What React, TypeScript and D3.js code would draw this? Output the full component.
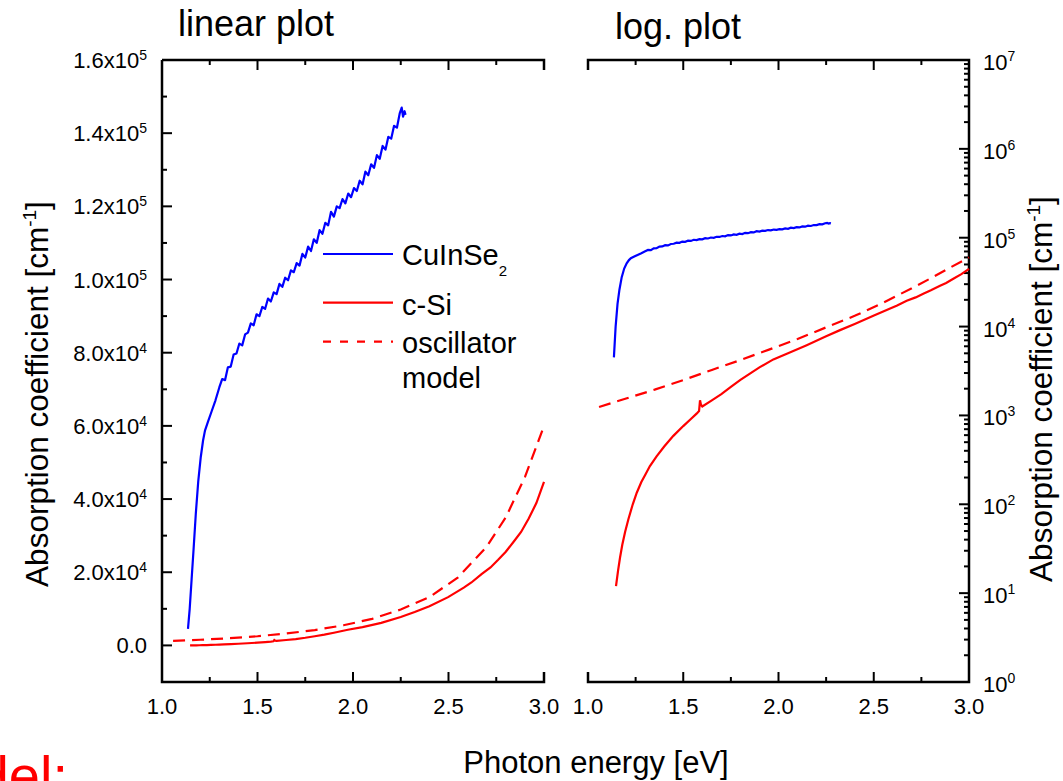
import React from "react";
import * as d3 from "d3";

// ---------- data (photon energy [eV], absorption coefficient [cm^-1]) ----------
const cuinse2E = [1.136, 1.145, 1.155, 1.165, 1.177, 1.19, 1.203, 1.215, 1.225, 1.24, 1.26, 1.28, 1.3, 1.315, 1.33, 1.345, 1.36, 1.375, 1.39, 1.405, 1.42, 1.435, 1.45, 1.465, 1.48, 1.495, 1.51, 1.525, 1.54, 1.555, 1.57, 1.585, 1.6, 1.615, 1.63, 1.645, 1.66, 1.675, 1.69, 1.705, 1.72, 1.735, 1.75, 1.765, 1.78, 1.795, 1.81, 1.825, 1.84, 1.855, 1.87, 1.885, 1.9, 1.915, 1.93, 1.945, 1.96, 1.975, 1.99, 2.005, 2.02, 2.035, 2.05, 2.065, 2.08, 2.095, 2.11, 2.125, 2.14, 2.155, 2.17, 2.185, 2.2, 2.215, 2.23, 2.245, 2.255, 2.262, 2.27, 2.275];
const cuinse2A = [4500, 10000, 18000, 26000, 36000, 45000, 51500, 56000, 58700, 61000, 64000, 67000, 70500, 72800, 72500, 76000, 76200, 79500, 79800, 82500, 82000, 85000, 85500, 88000, 87500, 90500, 90000, 92500, 92000, 94800, 94000, 96500, 96000, 98800, 98000, 100500, 99800, 102500, 102000, 104500, 103800, 107000, 106000, 109000, 107800, 111000, 110000, 113500, 112500, 115500, 114800, 118500, 117200, 120000, 119500, 122000, 120800, 123500, 122500, 125000, 124200, 127000, 126000, 129500, 128500, 131500, 130500, 134000, 133000, 136500, 135500, 139000, 138500, 142000, 141500, 145500, 147000, 144500, 146000, 145000];

const cSiE = [1.147, 1.158, 1.168, 1.18, 1.195, 1.212, 1.235, 1.256, 1.28, 1.3, 1.325, 1.36, 1.4, 1.448, 1.5, 1.54, 1.57, 1.583, 1.588, 1.593, 1.6, 1.65, 1.7, 1.75, 1.8, 1.85, 1.9, 1.973, 2.05, 2.148, 2.25, 2.323, 2.4, 2.498, 2.58, 2.62, 2.673, 2.72, 2.76, 2.8, 2.848, 2.88, 2.92, 2.96, 3.0];
const cSiA = [12, 18, 25, 35, 49, 68, 100, 135, 178, 214, 269, 347, 447, 589, 759, 912, 1047, 1122, 1480, 1320, 1260, 1480, 1740, 2090, 2510, 2950, 3470, 4270, 5010, 6170, 7760, 9120, 10700, 13200, 15800, 17200, 19500, 21300, 23400, 25600, 28800, 31000, 34700, 38900, 44700];

const oscE = [1.058, 1.2, 1.35, 1.5, 1.65, 1.8, 1.95, 2.1, 2.25, 2.4, 2.55, 2.7, 2.8, 2.9, 3.0];
const oscA = [1245, 1550, 1950, 2500, 3250, 4200, 5500, 7250, 9800, 13200, 18600, 27000, 35000, 46000, 60000];

const xTicksMajor = [1.0, 1.5, 2.0, 2.5, 3.0];
const xTicksMinor = [1.25, 1.75, 2.25, 2.75];
const yLinMajor = [0, 2e4, 4e4, 6e4, 8e4, 1e5, 1.2e5, 1.4e5, 1.6e5];
const yLinMinor = [-1e4, 1e4, 3e4, 5e4, 7e4, 9e4, 1.1e5, 1.3e5, 1.5e5];
const yLogMajor = [1, 10, 100, 1e3, 1e4, 1e5, 1e6, 1e7];

const seriesNames = ["CuInSe", "c-Si", "oscillator", "model"];

const FONT = "'Liberation Sans', Arial, Helvetica, sans-serif";
const BLUE = "#0000ff";
const RED = "#ff0000";

type P = [number, number];
const zip = (a: number[], b: number[]): P[] => a.map((v, i) => [v, b[i]]);

export default function App() {
  const xL = d3.scaleLinear().domain([1, 3]).range([162, 544]);
  const yL = d3.scaleLinear().domain([-1e4, 1.6e5]).range([682, 60]);
  const xR = d3.scaleLinear().domain([1, 3]).range([588, 969]);
  const yR = d3.scaleLog().domain([1, 1e7]).range([682, 60]);

  const blue = zip(cuinse2E, cuinse2A);
  const si = zip(cSiE, cSiA);
  const osc = zip(oscE, oscA);

  const lineL = d3.line<P>().x((d) => xL(d[0])).y((d) => yL(d[1]));
  const lineR = d3.line<P>().x((d) => xR(d[0])).y((d) => yR(d[1]));

  const minorLog: number[] = [];
  for (let e = 0; e < 7; e++) for (let m = 2; m <= 9; m++) minorLog.push(m * Math.pow(10, e));

  const axisStroke = { stroke: "#000", strokeWidth: 2.5, fill: "none" } as const;
  const tickStroke = { stroke: "#000", strokeWidth: 2 } as const;

  const xAxisTicks = (x: d3.ScaleLinear<number, number>, key: string) => (
    <g key={key}>
      {xTicksMajor.map((t) => (
        <g key={"M" + t}>
          <line x1={x(t)} x2={x(t)} y1={682} y2={672} {...tickStroke} />
          <line x1={x(t)} x2={x(t)} y1={60} y2={70} {...tickStroke} />
          <text x={x(t)} y={714} textAnchor="middle" fontSize={22}>
            {t.toFixed(1)}
          </text>
        </g>
      ))}
      {xTicksMinor.map((t) => (
        <g key={"m" + t}>
          <line x1={x(t)} x2={x(t)} y1={682} y2={677} {...tickStroke} />
          <line x1={x(t)} x2={x(t)} y1={60} y2={65} {...tickStroke} />
        </g>
      ))}
    </g>
  );

  const linLabel = (v: number) => {
    if (v === 0) return <>0.0</>;
    const e = Math.floor(Math.log10(v) + 1e-9);
    const m = (v / Math.pow(10, e)).toFixed(1);
    return (
      <>
        {m}x10
        <tspan dy={-8} fontSize={14}>
          {e}
        </tspan>
      </>
    );
  };

  return (
    <svg
      width={1063}
      height={781}
      style={{ position: "absolute", left: 0, top: 0, background: "#fff" }}
      fontFamily={FONT}
    >
      <rect x={0} y={0} width={1063} height={781} fill="#fff" />

      {/* titles */}
      <text x={178} y={36} fontSize={36}>linear plot</text>
      <text x={615} y={39} fontSize={36}>log. plot</text>

      {/* left panel axes */}
      <path d={`M162,60 V682 H544 V672`} {...axisStroke} />
      <path d={`M162,60 H544 V70`} {...axisStroke} />
      {xAxisTicks(xL, "xl")}
      {yLinMajor.map((v) => (
        <g key={"yl" + v}>
          <line x1={162} x2={172} y1={yL(v)} y2={yL(v)} {...tickStroke} />
          <text x={147} y={yL(v) + 8} textAnchor="end" fontSize={22}>
            {linLabel(v)}
          </text>
        </g>
      ))}
      {yLinMinor.map((v) => (
        <line key={"ylm" + v} x1={162} x2={167} y1={yL(v)} y2={yL(v)} {...tickStroke} />
      ))}

      {/* right panel axes */}
      <path d={`M588,70 V60 H969 V682 H588 V672`} {...axisStroke} />
      {xAxisTicks(xR, "xr")}
      {yLogMajor.map((v) => (
        <g key={"yr" + v}>
          <line x1={969} x2={959} y1={yR(v)} y2={yR(v)} {...tickStroke} />
          <text x={983} y={yR(v) + 10} fontSize={22}>
            10
            <tspan dy={-9} fontSize={14}>
              {Math.round(Math.log10(v))}
            </tspan>
          </text>
        </g>
      ))}
      {minorLog.map((v) => (
        <line key={"yrm" + v} x1={969} x2={964} y1={yR(v)} y2={yR(v)} {...tickStroke} />
      ))}

      {/* axis titles */}
      <text transform="translate(48,394) rotate(-90)" textAnchor="middle" fontSize={31.5}>
        Absorption coefficient [cm
        <tspan dy={-12} fontSize={19}>-1</tspan>
        <tspan dy={12}>]</tspan>
      </text>
      <text transform="translate(1052,389) rotate(-90)" textAnchor="middle" fontSize={31.5}>
        Absorption coefficient [cm
        <tspan dy={-12} fontSize={19}>-1</tspan>
        <tspan dy={12}>]</tspan>
      </text>
      <text x={596} y={773} textAnchor="middle" fontSize={31}>Photon energy [eV]</text>

      {/* data: linear panel */}
      <path d={lineL(osc) ?? ""} stroke={RED} strokeWidth={2.2} fill="none" strokeDasharray="12,7" />
      <path d={lineL(si) ?? ""} stroke={RED} strokeWidth={2.2} fill="none" />
      <path d={lineL(blue) ?? ""} stroke={BLUE} strokeWidth={2.2} fill="none" strokeLinejoin="round" />

      {/* data: log panel */}
      <path d={lineR(osc) ?? ""} stroke={RED} strokeWidth={2.2} fill="none" strokeDasharray="12,7" />
      <path d={lineR(si) ?? ""} stroke={RED} strokeWidth={2.2} fill="none" />
      <path d={lineR(blue) ?? ""} stroke={BLUE} strokeWidth={2.2} fill="none" />

      {/* legend */}
      <line x1={323} x2={393} y1={254} y2={254} stroke={BLUE} strokeWidth={2.2} />
      <text x={402} y={265} fontSize={29}>
        {seriesNames[0]}
        <tspan dy={11} fontSize={15}>2</tspan>
      </text>
      <line x1={323} x2={393} y1={302.7} y2={302.7} stroke={RED} strokeWidth={2.2} />
      <text x={402} y={314.5} fontSize={29}>{seriesNames[1]}</text>
      <line x1={323} x2={393} y1={341.7} y2={341.7} stroke={RED} strokeWidth={2.2} strokeDasharray="8,9" />
      <text x={402} y={353.3} fontSize={29}>{seriesNames[2]}</text>
      <text x={402} y={388.3} fontSize={29}>{seriesNames[3]}</text>

      {/* clipped red caption at bottom-left, as in the reference */}
      <text x={68} y={795} textAnchor="end" fontSize={56} fill={RED}>Oscillator model:</text>
    </svg>
  );
}
